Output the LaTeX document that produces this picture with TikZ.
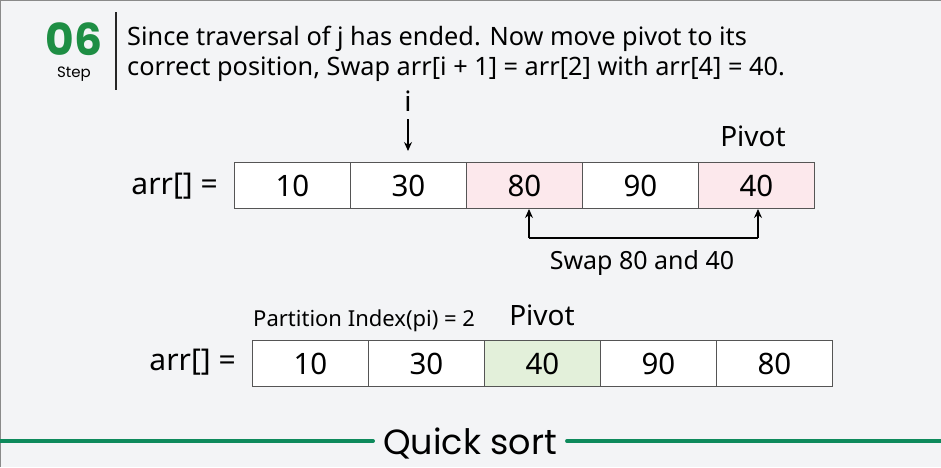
\documentclass[tikz,border=0pt]{standalone}
\usepackage{fontspec}
\setmainfont{Noto Sans}
\newfontfamily\qsfont{Poppins}
\usetikzlibrary{arrows.meta}
\definecolor{bgc}{HTML}{F3F4F6}
\definecolor{frame}{HTML}{8A8A8A}
\definecolor{stepgreen}{HTML}{1E8E44}
\definecolor{linegreen}{HTML}{0E8A5C}
\definecolor{pinkc}{HTML}{FCE8EC}
\definecolor{greenc}{HTML}{E3F0DA}
\definecolor{cellline}{HTML}{555555}
\tikzset{
  cell/.style={draw=cellline, line width=0.9pt, minimum width=116pt, minimum height=46pt, inner sep=0pt, anchor=north west, font=\fontsize{29.5}{30}\selectfont, text=black},
  lbl/.style={inner sep=0pt, text=black},
  arr/.style={-{Stealth[length=9pt,width=8pt]}, line width=1.1pt, black},
}
\begin{document}
\begin{tikzpicture}[x=1pt,y=-1pt]
\useasboundingbox (0,0) rectangle (941,467);
\fill[bgc] (0,0) rectangle (941,467);
\draw[frame, line width=1.2pt] (0.6,467) -- (0.6,0.6) -- (941,0.6);
% header
\node[lbl, text=stepgreen, font=\qsfont\bfseries\fontsize{44}{44}\selectfont, anchor=base, text depth=0pt, text height=31pt] (num) at (74,55) {06};
\node[lbl, font=\qsfont\fontsize{15}{15}\selectfont, anchor=base, text height=10.5pt] (step) at (74,77) {Step};
\draw[black!85, line width=1.5pt] (116,12) coordinate (vt) -- (116,90) coordinate (vb);
\node[lbl, font=\fontsize{25.3}{25}\selectfont, anchor=base west] (h1) at (127,45) {Since traversal of j has ended. Now move pivot to its};
\node[lbl, font=\fontsize{25.3}{25}\selectfont, anchor=base west] (h2) at (127,75) {correct position, Swap arr[i + 1] = arr[2] with arr[4] = 40.};
% first array
\node[lbl, font=\fontsize{30}{30}\selectfont, anchor=east] (a1) at (218,186) {arr[] =};
\node[cell, fill=white] (c10) at (234,162) {10};
\node[cell, fill=white] (c11) at (350,162) {30};
\node[cell, fill=pinkc] (c12) at (466,162) {80};
\node[cell, fill=white] (c13) at (582,162) {90};
\node[cell, fill=pinkc] (c14) at (698,162) {40};
\node[lbl, font=\fontsize{28}{28}\selectfont, anchor=base] (piv1) at (753,146) {Pivot};
\node[lbl, font=\fontsize{28}{28}\selectfont, anchor=base] (iv) at (408,111) {i};
\coordinate (ia) at (408,119);
\draw[arr] (ia) -- (408,151) coordinate (ib);
% swap bracket
\coordinate (sl) at (529,238);
\coordinate (sr) at (758,238);
\draw[line width=1.1pt] (sl) -- (sr);
\draw[arr] (sl) -- (529,209) coordinate (slt);
\draw[arr] (sr) -- (758,209) coordinate (srt);
\node[lbl, font=\fontsize{25}{25}\selectfont, anchor=base] (sw) at (642,269) {Swap 80 and 40};
% second array
\node[lbl, font=\fontsize{22}{22}\selectfont, anchor=base west] (pi) at (253,326) {Partition Index(pi) = 2};
\node[lbl, font=\fontsize{28}{28}\selectfont, anchor=base] (piv2) at (542,325) {Pivot};
\node[lbl, font=\fontsize{30}{30}\selectfont, anchor=east] (a2) at (236,362) {arr[] =};
\node[cell, fill=white] (c20) at (252,340) {10};
\node[cell, fill=white] (c21) at (368,340) {30};
\node[cell, fill=greenc] (c22) at (484,340) {40};
\node[cell, fill=white] (c23) at (600,340) {90};
\node[cell, fill=white] (c24) at (716,340) {80};
% footer
\node[lbl, font=\qsfont\fontsize{35}{35}\selectfont, anchor=base] (qs) at (470,454) {Quick sort};
\coordinate (fl) at (0,441);
\coordinate (fr) at (941,441);
\draw[linegreen, line width=4pt, line cap=round] (fl) -- ([xshift=-10pt]qs.west |- fl);
\draw[linegreen, line width=4pt, line cap=round] ([xshift=10pt]qs.east |- fr) -- (fr);
\end{tikzpicture}
\end{document}
